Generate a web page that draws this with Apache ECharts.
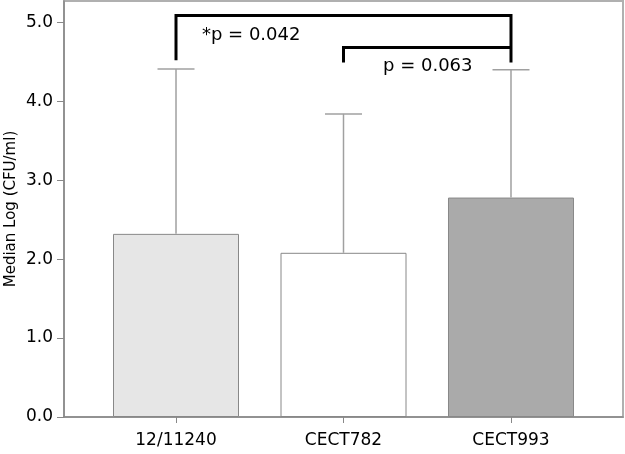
<!DOCTYPE html>
<html>
<head>
<meta charset="utf-8">
<script src="https://cdn.jsdelivr.net/npm/echarts@6/dist/echarts.min.js"></script>
<style>html,body{margin:0;padding:0;background:#fff;}#c{width:625px;height:454px;}</style>
</head>
<body>
<div id="c"></div>
<script>
const categories = ['12/11240', 'CECT782', 'CECT993'];
const medians = [2.32, 2.08, 2.78];
const upper = [4.41, 3.84, 4.40];
const barColors = ['#e6e6e6', '#ffffff', '#aaaaaa'];
const yTicks = [0, 1, 2, 3, 4, 5];
const bracketA = [[0, 4.52], [0, 5.085], [2, 5.085], [2, 4.49]];
const bracketB = [[1, 4.49], [1, 4.68], [2, 4.68]];
const pLabels = ['*p = 0.042', 'p = 0.063'];
const pLabelPos = [[0.155, 4.83], [1.236, 4.44]];

const FONT = 'DejaVu Sans';
const chart = echarts.init(document.getElementById('c'));
const xIdx = categories.map((c, i) => i);

chart.setOption({
  animation: false,
  grid: { left: 64, right: 2, top: 1, bottom: 37, containLabel: false, outerBoundsMode: 'none', show: true, borderColor: '#b0b0b0', borderWidth: 2, backgroundColor: 'transparent' },
  xAxis: {
    type: 'value', min: -0.6687, max: 2.6687,
    axisLine: { show: true, onZero: false, lineStyle: { color: '#888', width: 1.5 } },
    axisTick: { show: true, customValues: xIdx, length: 6, lineStyle: { color: '#888' } },
    axisLabel: { customValues: xIdx, formatter: v => categories[Math.round(v)] || '', color: '#000', fontFamily: FONT, fontSize: 17, margin: 15 },
    splitLine: { show: false }
  },
  yAxis: {
    type: 'value', min: 0, max: 5.27,
    name: 'Median Log (CFU/ml)', nameLocation: 'middle', nameGap: 45, nameMoveOverlap: false,
    nameTextStyle: { color: '#000', fontFamily: FONT, fontSize: 15 },
    axisLine: { show: true, onZero: false, lineStyle: { color: '#888', width: 1.5 } },
    axisTick: { show: true, customValues: yTicks, length: 7, lineStyle: { color: '#888' } },
    axisLabel: { customValues: yTicks, formatter: v => v.toFixed(1), color: '#000', fontFamily: FONT, fontSize: 17, margin: 11 },
    splitLine: { show: false }
  },
  series: [
    {
      type: 'bar', barWidth: 126,
      data: medians.map((m, i) => ({ value: [i, m], itemStyle: { color: barColors[i], borderColor: '#888', borderWidth: 1 } })),
      z: 2
    },
    {
      type: 'custom', z: 3,
      data: medians.map((m, i) => [i, m, upper[i]]),
      renderItem: function (params, api) {
        const p0 = api.coord([api.value(0), api.value(1)]);
        const p1 = api.coord([api.value(0), api.value(2)]);
        const half = 18.5;
        const st = { stroke: '#a0a0a0', lineWidth: 1.5 };
        return { type: 'group', children: [
          { type: 'line', shape: { x1: p0[0], y1: p0[1], x2: p1[0], y2: p1[1] }, style: st },
          { type: 'line', shape: { x1: p1[0] - half, y1: p1[1], x2: p1[0] + half, y2: p1[1] }, style: st }
        ] };
      }
    },
    {
      type: 'line', data: bracketA, symbol: 'none', z: 4,
      lineStyle: { color: '#000', width: 3, join: 'miter', cap: 'butt' }
    },
    {
      type: 'line', data: bracketB, symbol: 'none', z: 4,
      lineStyle: { color: '#000', width: 3, join: 'miter', cap: 'butt' }
    },
    {
      type: 'custom', z: 5,
      data: pLabelPos.map((p, i) => [p[0], p[1], i]),
      renderItem: function (params, api) {
        const pt = api.coord([api.value(0), api.value(1)]);
        return { type: 'text', x: pt[0], y: pt[1], style: { text: pLabels[api.value(2)], fill: '#000', font: '18px "DejaVu Sans"', textAlign: 'left', textVerticalAlign: 'middle' } };
      }
    }
  ]
});
</script>
</body>
</html>
